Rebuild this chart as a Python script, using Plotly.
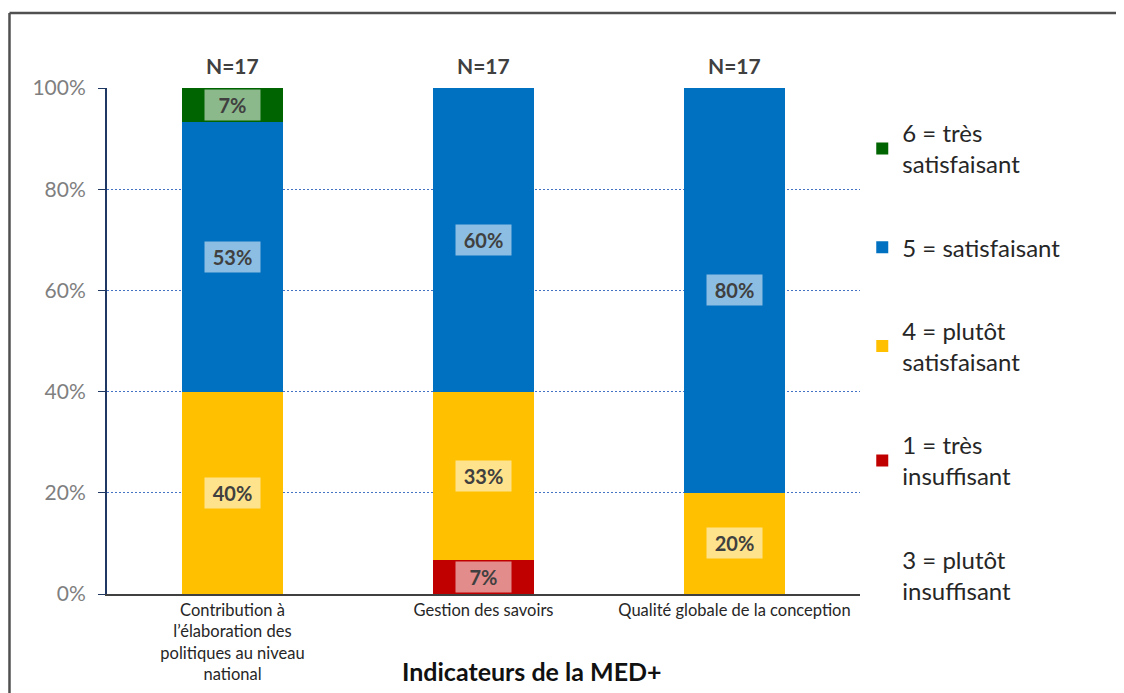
import plotly.graph_objects as go

# Data
categories = ["Contribution à<br>l’élaboration des<br>politiques au niveau<br>national",
              "Gestion des savoirs",
              "Qualité globale de la conception"]
n_labels = ["N=17", "N=17", "N=17"]

series_names = ["3 = plutôt<br>insuffisant", "1 = très<br>insuffisant", "4 = plutôt<br>satisfaisant",
                "5 = satisfaisant", "6 = très<br>satisfaisant"]
insuff_3 = [0, 0, 0]
tres_insuff_1 = [0, 6.7, 0]
plutot_satisf_4 = [40, 33.3, 20]
satisf_5 = [53.3, 60, 80]
tres_satisf_6 = [6.7, 0, 0]
series_values = [insuff_3, tres_insuff_1, plutot_satisf_4, satisf_5, tres_satisf_6]
colors = ["#FFFFFF", "#C00000", "#FFC000", "#0070C0", "#006400"]
legend_ranks = [5, 4, 3, 2, 1]

FONT = "Lato"

fig = go.Figure()
for name, vals, col, rk in zip(series_names, series_values, colors, legend_ranks):
    fig.add_trace(go.Bar(x=categories, y=vals, name=name, legendgroup=name, legendrank=rk,
                         marker=dict(color=col, line=dict(width=0)), width=0.4))

# value labels in translucent boxes
for i, cat in enumerate(categories):
    base = 0
    for vals in series_values:
        v = vals[i]
        if v > 0:
            fig.add_annotation(x=cat, y=base + v / 2, text=f"<b>{v:.0f}%</b>",
                               showarrow=False, bgcolor="rgba(255,255,255,0.55)",
                               font=dict(family=FONT, size=20, color="#404040"),
                               width=53, height=28)
        base += v
    fig.add_annotation(x=cat, y=100, yshift=23, text=f"<b>{n_labels[i]}</b>", showarrow=False,
                       font=dict(family=FONT, size=21, color="#404040"))

fig.add_annotation(xref="paper", yref="paper", x=0.564, y=-0.152, yanchor="middle", showarrow=False,
                   text="<b>Indicateurs de la MED+</b>",
                   font=dict(family=FONT, size=25, color="#111111"))

# frame lines
fig.add_shape(type="line", xref="paper", yref="paper", x0=-0.1295, x1=1.36, y0=1.148, y1=1.148,
              line=dict(color="#505050", width=2.5))
fig.add_shape(type="line", xref="paper", yref="paper", x0=-0.1295, x1=-0.1295, y0=1.148, y1=-0.2,
              line=dict(color="#505050", width=2.5))

# page body adds an 8px offset, margins compensate for it
fig.update_layout(
    barmode="stack",
    width=1124, height=693,
    margin=dict(l=99, r=272, t=80, b=107),
    plot_bgcolor="white", paper_bgcolor="white",
    font=dict(family=FONT),
    legend=dict(x=1.003, xanchor="left", y=0.955, yanchor="top",
                traceorder="grouped", tracegroupgap=49, maxheight=1,
                font=dict(family=FONT, size=24, color="#262626")),
)
fig.update_yaxes(range=[0, 100], tickvals=[0, 20, 40, 60, 80, 100],
                 ticktext=["0%", "20%", "40%", "60%", "80%", "100%"],
                 showgrid=True, gridcolor="#4472C4", griddash="2px,2px", gridwidth=1,
                 showline=True, linecolor="#1F3864", linewidth=2,
                 ticks="outside", ticklen=7, tickcolor="#1F3864", ticklabelstandoff=8,
                 tickfont=dict(family=FONT, size=21, color="#7F7F7F"), zeroline=False)
fig.update_xaxes(range=[-0.5, 2.5], showline=True, linecolor="#404040", linewidth=2,
                 tickfont=dict(family=FONT, size=16.5, color="#262626"), ticks="")

fig.write_html("out.html")
